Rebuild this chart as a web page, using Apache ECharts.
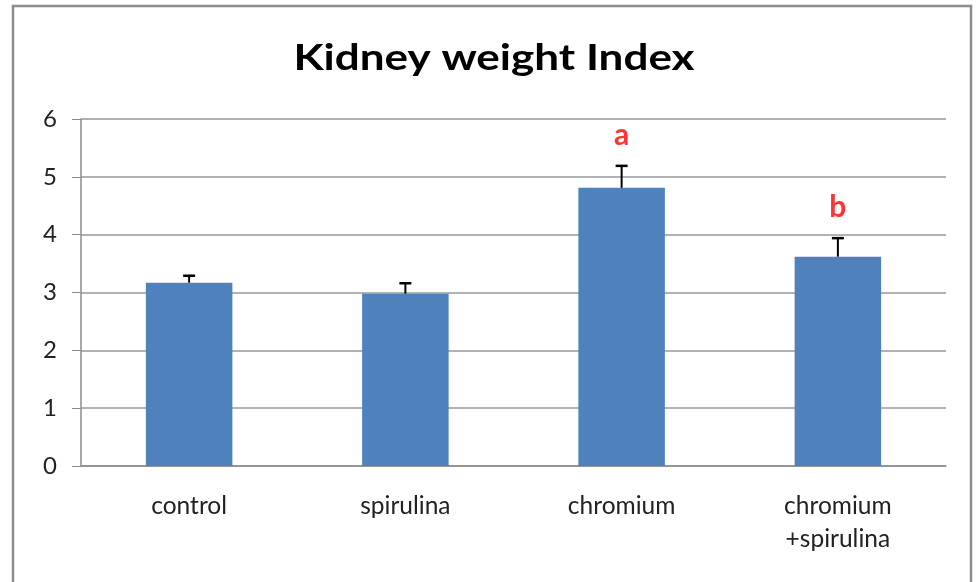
<!DOCTYPE html>
<html>
<head>
<meta charset="utf-8">
<style>
  html, body { margin: 0; padding: 0; background: #fff; }
  #chart { width: 976px; height: 582px; }
</style>
<script src="https://cdn.jsdelivr.net/npm/echarts@6/dist/echarts.min.js"></script>
</head>
<body>
<div id="chart"></div>
<script>
  // data
  const groups = ['control', 'spirulina', 'chromium', 'chromium\n+spirulina'];
  const means = [3.17, 2.98, 4.81, 3.62];
  const errTops = [3.29, 3.16, 5.19, 3.94];
  const marks = ['', '', 'a', 'b'];
  const yTicks = [0, 1, 2, 3, 4, 5, 6];
  const chartTitle = 'Kidney weight Index';

  const chart = echarts.init(document.getElementById('chart'));
  const font = 'Lato';

  chart.setOption({
    animation: false,
    graphic: [
      {
        type: 'rect',
        shape: { x: 13, y: 6, width: 958, height: 620 },
        style: { fill: null, stroke: '#8c8c8c', lineWidth: 2.5 },
        silent: true
      },
      {
        // the original title font runs wider than Lato, stretch it a little
        type: 'text',
        x: 494,
        y: 58,
        scaleX: 1.19,
        style: {
          text: chartTitle,
          fontFamily: font,
          fontSize: 37,
          fontWeight: 'bold',
          fill: '#000',
          align: 'center',
          verticalAlign: 'middle'
        }
      }
    ],
    grid: { left: 81, right: 30, top: 119, bottom: 116 },
    xAxis: {
      type: 'category',
      data: groups,
      axisLine: { lineStyle: { color: '#8c8c8c', width: 1.5 } },
      axisTick: { length: 8, lineStyle: { color: '#8c8c8c' } },
      axisLabel: { margin: 24, fontFamily: font, fontSize: 24.5, color: '#222', lineHeight: 33 }
    },
    yAxis: {
      type: 'value',
      min: yTicks[0],
      max: yTicks[yTicks.length - 1],
      interval: 1,
      axisLine: { show: true, lineStyle: { color: '#8c8c8c', width: 1.5 } },
      axisTick: { show: true, length: 9, lineStyle: { color: '#8c8c8c' } },
      axisLabel: { margin: 24, fontFamily: font, fontSize: 24, color: '#222' },
      splitLine: { lineStyle: { color: '#999', width: 1.5 } }
    },
    series: [
      {
        type: 'bar',
        data: means,
        barWidth: '40%',
        itemStyle: { color: '#4f81bd' }
      },
      {
        type: 'custom',
        data: groups.map((g, i) => [i, means[i], errTops[i]]),
        renderItem: function (params, api) {
          const base = api.coord([api.value(0), api.value(1)]);
          const top = api.coord([api.value(0), api.value(2)]);
          const cap = 6;
          return {
            type: 'group',
            children: [
              { type: 'line', shape: { x1: base[0], y1: base[1], x2: top[0], y2: top[1] },
                style: { stroke: '#000', lineWidth: 2 } },
              { type: 'line', shape: { x1: top[0] - cap, y1: top[1], x2: top[0] + cap, y2: top[1] },
                style: { stroke: '#000', lineWidth: 2.5 } }
            ]
          };
        },
        z: 3
      },
      {
        type: 'scatter',
        data: groups.map((g, i) => [i, errTops[i]]),
        symbolSize: 0,
        label: {
          show: true,
          position: 'top',
          distance: 16,
          formatter: p => marks[p.dataIndex],
          fontFamily: font,
          fontSize: 30,
          fontWeight: 'bold',
          color: '#ff0000'
        },
        z: 4
      }
    ]
  });
</script>
</body>
</html>
